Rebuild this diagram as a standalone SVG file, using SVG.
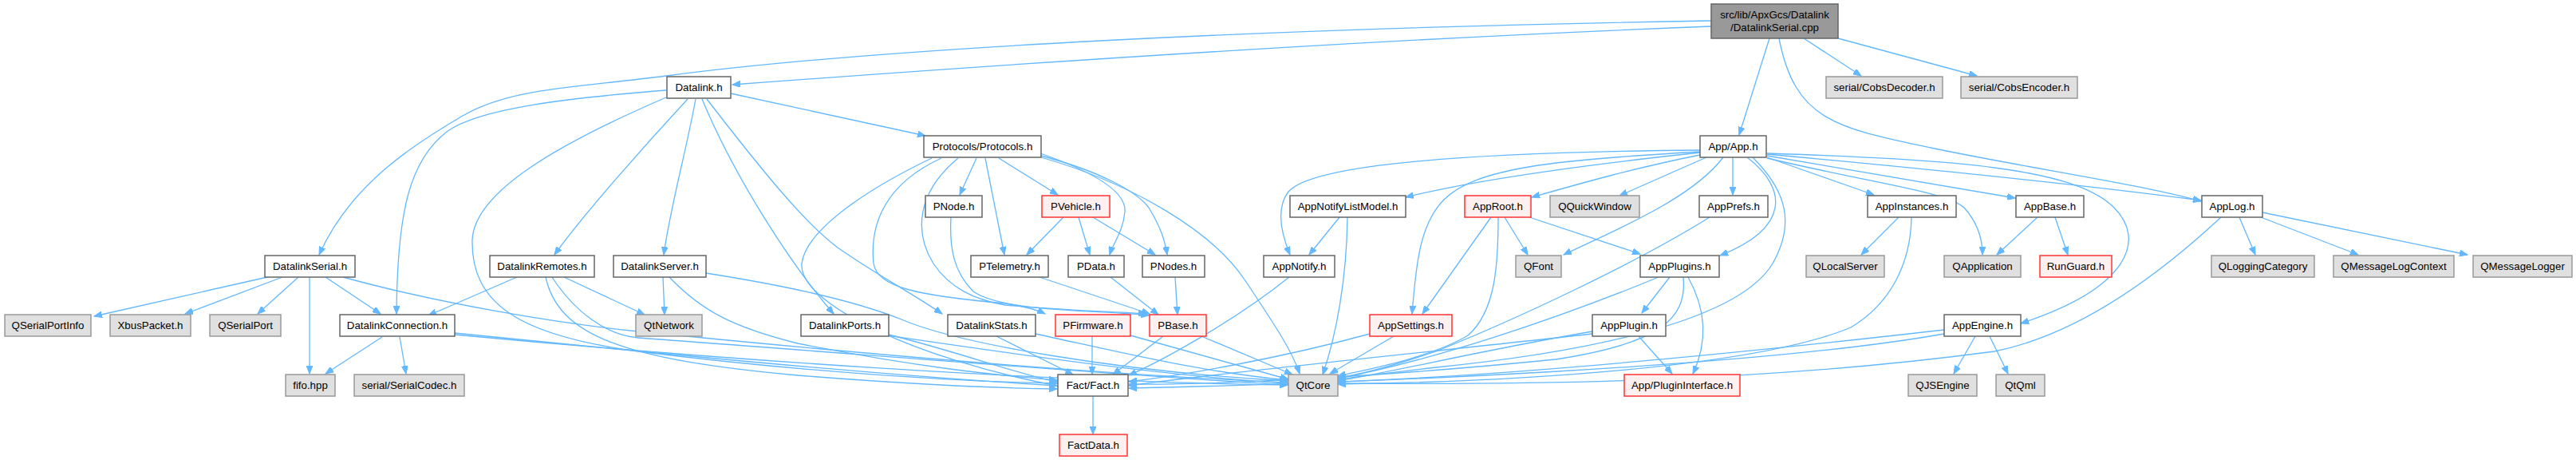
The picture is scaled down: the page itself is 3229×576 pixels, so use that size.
<svg xmlns="http://www.w3.org/2000/svg" width="3229" height="576" viewBox="0 0 3229 576">
<style>
.b{fill:#ffffff;stroke:#666666;stroke-width:1.5}
.g{fill:#e0e0e0;stroke:#999999;stroke-width:1.5}
.r{fill:#fff0f0;stroke:#ff3333;stroke-width:1.5}
.root{fill:#999999;stroke:#666666;stroke-width:1.5}
text{font-family:"Liberation Sans",Arial,sans-serif;font-size:13.3px;fill:#000000;text-anchor:middle}
#edges path{fill:none;stroke:#63b8ff;stroke-width:1.3;marker-end:url(#ah)}
</style>
<defs>
<marker id="ah" markerUnits="userSpaceOnUse" markerWidth="11" markerHeight="8" refX="10" refY="4" orient="auto">
<path d="M0,0 L10,4 L0,8 z" fill="#63b8ff" stroke="#63b8ff" stroke-width="1"/>
</marker>
</defs>
<rect width="3229" height="576" fill="#ffffff"/>
<g id="edges">
<path d="M2145,33 C1700,50 1200,85 918,106"/>
<path d="M2145,26 C1600,35 1100,60 835,95 C720,110 640,110 580,145 C520,180 440,230 400,319"/>
<path d="M2218,48 L2180,169"/>
<path d="M2261,48 L2333,95"/>
<path d="M2304,48 L2478,95"/>
<path d="M2230,48 C2250,150 2300,160 2420,185 C2550,212 2680,230 2759,252"/>
<path d="M835,113 C720,122 600,135 560,165 C515,200 498,260 497,393"/>
<path d="M862,124 C810,180 730,270 695,319"/>
<path d="M872,124 C860,190 840,260 832,319"/>
<path d="M880,124 C920,220 990,330 1045,393"/>
<path d="M886,124 C960,220 1010,280 1050,310 C1100,345 1140,365 1181,393"/>
<path d="M916,117 L1160,170"/>
<path d="M835,122 C700,180 595,240 592,300 C590,380 650,420 800,440 C1000,465 1200,478 1325,480"/>
<path d="M335,347 L118,396"/>
<path d="M354,347 L232,393"/>
<path d="M374,347 L323,393"/>
<path d="M388,347 L388,468"/>
<path d="M408,347 L477,393"/>
<path d="M430,347 C550,380 700,405 800,415 C1100,445 1400,470 1614,479"/>
<path d="M479,422 L408,468"/>
<path d="M501,422 L509,468"/>
<path d="M570,417 C800,440 1100,470 1325,483"/>
<path d="M570,419 C900,450 1300,478 1614,482"/>
<path d="M648,347 L537,395"/>
<path d="M707,347 L808,394"/>
<path d="M684,347 C700,420 780,450 1000,470 C1150,482 1250,486 1325,487"/>
<path d="M692,347 C720,390 760,420 800,423 C1100,445 1400,470 1614,482"/>
<path d="M831,347 L833,394"/>
<path d="M839,347 C880,390 920,410 1000,430 C1150,460 1250,470 1325,476"/>
<path d="M885,342 C1000,360 1080,380 1130,400 C1200,430 1400,465 1614,477"/>
<path d="M1110,418 C1200,440 1280,470 1325,478"/>
<path d="M1112,420 C1250,440 1450,470 1614,480"/>
<path d="M1249,421 L1345,469"/>
<path d="M1298,418 C1400,440 1500,465 1614,476"/>
<path d="M1224,198 L1203,244"/>
<path d="M1235,198 L1259,319"/>
<path d="M1252,198 L1326,244"/>
<path d="M1304,192 C1370,215 1412,240 1410,265 C1408,290 1395,305 1391,319"/>
<path d="M1305,195 C1380,215 1425,240 1440,260 C1455,285 1460,300 1463,319"/>
<path d="M1305,197 C1420,230 1520,290 1560,350 C1600,410 1620,440 1629,468"/>
<path d="M1168,198 C1080,240 1010,290 1005,330 C1000,380 1150,450 1325,483"/>
<path d="M1180,198 C1110,230 1090,280 1095,330 C1100,360 1150,370 1260,380 C1290,385 1300,388 1310,393"/>
<path d="M1201,198 C1150,240 1145,290 1170,330 C1190,360 1220,375 1260,382 C1350,390 1400,390 1437,393"/>
<path d="M1192,272 C1190,310 1195,340 1220,365 C1260,392 1380,388 1440,395"/>
<path d="M1333,272 L1287,319"/>
<path d="M1352,272 L1366,319"/>
<path d="M1370,272 L1448,319"/>
<path d="M1303,347 L1441,393"/>
<path d="M1392,347 L1452,394"/>
<path d="M1473,347 L1476,394"/>
<path d="M1369,421 L1369,469"/>
<path d="M1417,420 L1615,475"/>
<path d="M1458,421 L1395,469"/>
<path d="M1506,421 L1620,469"/>
<path d="M1370,496 L1370,544"/>
<path d="M1616,347 C1550,400 1460,450 1415,470"/>
<path d="M2131,188 C1900,190 1650,200 1615,240 C1600,260 1605,290 1617,319"/>
<path d="M2131,191 C2000,205 1850,225 1762,247"/>
<path d="M2131,194 C2050,210 1980,230 1920,247"/>
<path d="M2139,197 L2030,245"/>
<path d="M2160,197 C2120,250 2020,290 1960,319"/>
<path d="M2172,197 L2172,244"/>
<path d="M2190,197 C2240,235 2245,285 2156,320"/>
<path d="M2197,197 C2240,240 2250,280 2222,330 C2180,400 2000,440 1800,460 C1730,468 1700,472 1677,475"/>
<path d="M2131,190 C1950,200 1850,210 1810,250 C1780,280 1775,330 1770,393"/>
<path d="M2215,197 L2349,244"/>
<path d="M2215,198 C2350,230 2440,240 2462,260 C2480,280 2485,300 2485,319"/>
<path d="M2215,195 L2526,248"/>
<path d="M2215,193 C2400,210 2600,230 2759,251"/>
<path d="M2215,192 C2450,200 2600,210 2650,260 C2690,300 2670,360 2533,405"/>
<path d="M1679,272 L1641,319"/>
<path d="M1689,272 C1688,350 1675,420 1658,469"/>
<path d="M1869,272 L1783,393"/>
<path d="M1886,272 L1915,319"/>
<path d="M1917,272 L2056,318"/>
<path d="M1878,272 C1878,330 1875,390 1840,420 C1790,450 1700,465 1677,471"/>
<path d="M2143,272 C2050,330 1900,400 1800,440 C1740,460 1700,470 1677,473"/>
<path d="M2093,347 L2058,392"/>
<path d="M2116,347 C2140,390 2140,430 2122,468"/>
<path d="M2079,347 C1950,400 1800,450 1677,474"/>
<path d="M2110,347 C2115,400 2080,430 1950,450 C1700,475 1500,482 1415,481"/>
<path d="M2054,421 L2096,468"/>
<path d="M1996,415 C1850,440 1750,465 1677,477"/>
<path d="M1996,418 C1800,440 1500,470 1415,483"/>
<path d="M1747,421 L1667,468"/>
<path d="M1717,418 C1600,450 1480,470 1415,478"/>
<path d="M2476,421 L2449,468"/>
<path d="M2494,421 L2517,468"/>
<path d="M2437,413 C2200,440 1900,470 1677,478"/>
<path d="M2437,418 C2200,460 1700,480 1415,486"/>
<path d="M2807,272 L2827,319"/>
<path d="M2834,272 L2956,319"/>
<path d="M2836,266 L3093,319"/>
<path d="M2784,272 C2700,350 2600,420 2500,440 C2200,480 1900,482 1677,480"/>
<path d="M2380,272 L2333,319"/>
<path d="M2396,272 C2395,330 2370,380 2320,410 C2200,460 1900,478 1677,481"/>
<path d="M2554,272 L2503,319"/>
<path d="M2576,272 L2592,319"/>
</g>
<g id="n_root"><rect class="root" x="2145" y="5" width="159" height="43"/><text x="2224.5" y="22.5">src/lib/ApxGcs/Datalink</text><text x="2224.5" y="38.5">/DatalinkSerial.cpp</text></g>
<g id="n_datalink"><rect class="b" x="836" y="96" width="80" height="27"/><text x="876" y="114">Datalink.h</text></g>
<g id="n_cobsdec"><rect class="g" x="2289" y="96" width="146" height="27"/><text x="2362" y="114">serial/CobsDecoder.h</text></g>
<g id="n_cobsenc"><rect class="g" x="2458" y="96" width="146" height="27"/><text x="2531" y="114">serial/CobsEncoder.h</text></g>
<g id="n_protocols"><rect class="b" x="1158" y="170" width="147" height="27"/><text x="1231.5" y="188">Protocols/Protocols.h</text></g>
<g id="n_app"><rect class="b" x="2131" y="170" width="83" height="27"/><text x="2172.5" y="188">App/App.h</text></g>
<g id="n_pnode"><rect class="b" x="1160" y="245" width="71" height="27"/><text x="1195.5" y="263">PNode.h</text></g>
<g id="n_pvehicle"><rect class="r" x="1306" y="245" width="85" height="27"/><text x="1348.5" y="263">PVehicle.h</text></g>
<g id="n_appnotifylist"><rect class="b" x="1617" y="245" width="145" height="27"/><text x="1689.5" y="263">AppNotifyListModel.h</text></g>
<g id="n_approot"><rect class="r" x="1836" y="245" width="83" height="27"/><text x="1877.5" y="263">AppRoot.h</text></g>
<g id="n_qquickwindow"><rect class="g" x="1943" y="245" width="112" height="27"/><text x="1999" y="263">QQuickWindow</text></g>
<g id="n_appprefs"><rect class="b" x="2130" y="245" width="86" height="27"/><text x="2173" y="263">AppPrefs.h</text></g>
<g id="n_appinstances"><rect class="b" x="2341" y="245" width="111" height="27"/><text x="2396.5" y="263">AppInstances.h</text></g>
<g id="n_appbase"><rect class="b" x="2527" y="245" width="85" height="27"/><text x="2569.5" y="263">AppBase.h</text></g>
<g id="n_applog"><rect class="b" x="2760" y="245" width="76" height="27"/><text x="2798" y="263">AppLog.h</text></g>
<g id="n_dlserial"><rect class="b" x="332" y="320" width="113" height="27"/><text x="388.5" y="338">DatalinkSerial.h</text></g>
<g id="n_dlremotes"><rect class="b" x="614" y="320" width="131" height="27"/><text x="679.5" y="338">DatalinkRemotes.h</text></g>
<g id="n_dlserver"><rect class="b" x="769" y="320" width="116" height="27"/><text x="827" y="338">DatalinkServer.h</text></g>
<g id="n_ptelemetry"><rect class="b" x="1217" y="320" width="97" height="27"/><text x="1265.5" y="338">PTelemetry.h</text></g>
<g id="n_pdata"><rect class="b" x="1339" y="320" width="70" height="27"/><text x="1374" y="338">PData.h</text></g>
<g id="n_pnodes"><rect class="b" x="1432" y="320" width="78" height="27"/><text x="1471" y="338">PNodes.h</text></g>
<g id="n_appnotify"><rect class="b" x="1584" y="320" width="89" height="27"/><text x="1628.5" y="338">AppNotify.h</text></g>
<g id="n_qfont"><rect class="g" x="1900" y="320" width="57" height="27"/><text x="1928.5" y="338">QFont</text></g>
<g id="n_appplugins"><rect class="b" x="2056" y="320" width="99" height="27"/><text x="2105.5" y="338">AppPlugins.h</text></g>
<g id="n_qlocalserver"><rect class="g" x="2264" y="320" width="98" height="27"/><text x="2313" y="338">QLocalServer</text></g>
<g id="n_qapplication"><rect class="g" x="2437" y="320" width="96" height="27"/><text x="2485" y="338">QApplication</text></g>
<g id="n_runguard"><rect class="r" x="2557" y="320" width="90" height="27"/><text x="2602" y="338">RunGuard.h</text></g>
<g id="n_qloggingcat"><rect class="g" x="2772" y="320" width="129" height="27"/><text x="2836.5" y="338">QLoggingCategory</text></g>
<g id="n_qmsglogctx"><rect class="g" x="2925" y="320" width="151" height="27"/><text x="3000.5" y="338">QMessageLogContext</text></g>
<g id="n_qmsglogger"><rect class="g" x="3100" y="320" width="124" height="27"/><text x="3162" y="338">QMessageLogger</text></g>
<g id="n_qserialportinfo"><rect class="g" x="6" y="394" width="108" height="27"/><text x="60" y="412">QSerialPortInfo</text></g>
<g id="n_xbuspacket"><rect class="g" x="138" y="394" width="101" height="27"/><text x="188.5" y="412">XbusPacket.h</text></g>
<g id="n_qserialport"><rect class="g" x="263" y="394" width="89" height="27"/><text x="307.5" y="412">QSerialPort</text></g>
<g id="n_dlconnection"><rect class="b" x="426" y="394" width="144" height="27"/><text x="498" y="412">DatalinkConnection.h</text></g>
<g id="n_qtnetwork"><rect class="g" x="797" y="394" width="83" height="27"/><text x="838.5" y="412">QtNetwork</text></g>
<g id="n_dlports"><rect class="b" x="1004" y="394" width="110" height="27"/><text x="1059" y="412">DatalinkPorts.h</text></g>
<g id="n_dlstats"><rect class="b" x="1188" y="394" width="110" height="27"/><text x="1243" y="412">DatalinkStats.h</text></g>
<g id="n_pfirmware"><rect class="r" x="1323" y="394" width="94" height="27"/><text x="1370" y="412">PFirmware.h</text></g>
<g id="n_pbase"><rect class="r" x="1441" y="394" width="71" height="27"/><text x="1476.5" y="412">PBase.h</text></g>
<g id="n_appsettings"><rect class="r" x="1717" y="394" width="103" height="27"/><text x="1768.5" y="412">AppSettings.h</text></g>
<g id="n_appplugin"><rect class="b" x="1996" y="394" width="92" height="27"/><text x="2042" y="412">AppPlugin.h</text></g>
<g id="n_appengine"><rect class="b" x="2437" y="394" width="96" height="27"/><text x="2485" y="412">AppEngine.h</text></g>
<g id="n_fifo"><rect class="g" x="358" y="469" width="62" height="27"/><text x="389" y="487">fifo.hpp</text></g>
<g id="n_serialcodec"><rect class="g" x="444" y="469" width="138" height="27"/><text x="513" y="487">serial/SerialCodec.h</text></g>
<g id="n_fact"><rect class="b" x="1326" y="469" width="88" height="27"/><text x="1370" y="487">Fact/Fact.h</text></g>
<g id="n_qtcore"><rect class="g" x="1615" y="469" width="62" height="27"/><text x="1646" y="487">QtCore</text></g>
<g id="n_plugininterface"><rect class="r" x="2036" y="469" width="145" height="27"/><text x="2108.5" y="487">App/PluginInterface.h</text></g>
<g id="n_qjsengine"><rect class="g" x="2392" y="469" width="86" height="27"/><text x="2435" y="487">QJSEngine</text></g>
<g id="n_qtqml"><rect class="g" x="2502" y="469" width="61" height="27"/><text x="2532.5" y="487">QtQml</text></g>
<g id="n_factdata"><rect class="r" x="1328" y="544" width="85" height="27"/><text x="1370.5" y="562">FactData.h</text></g>
</svg>
